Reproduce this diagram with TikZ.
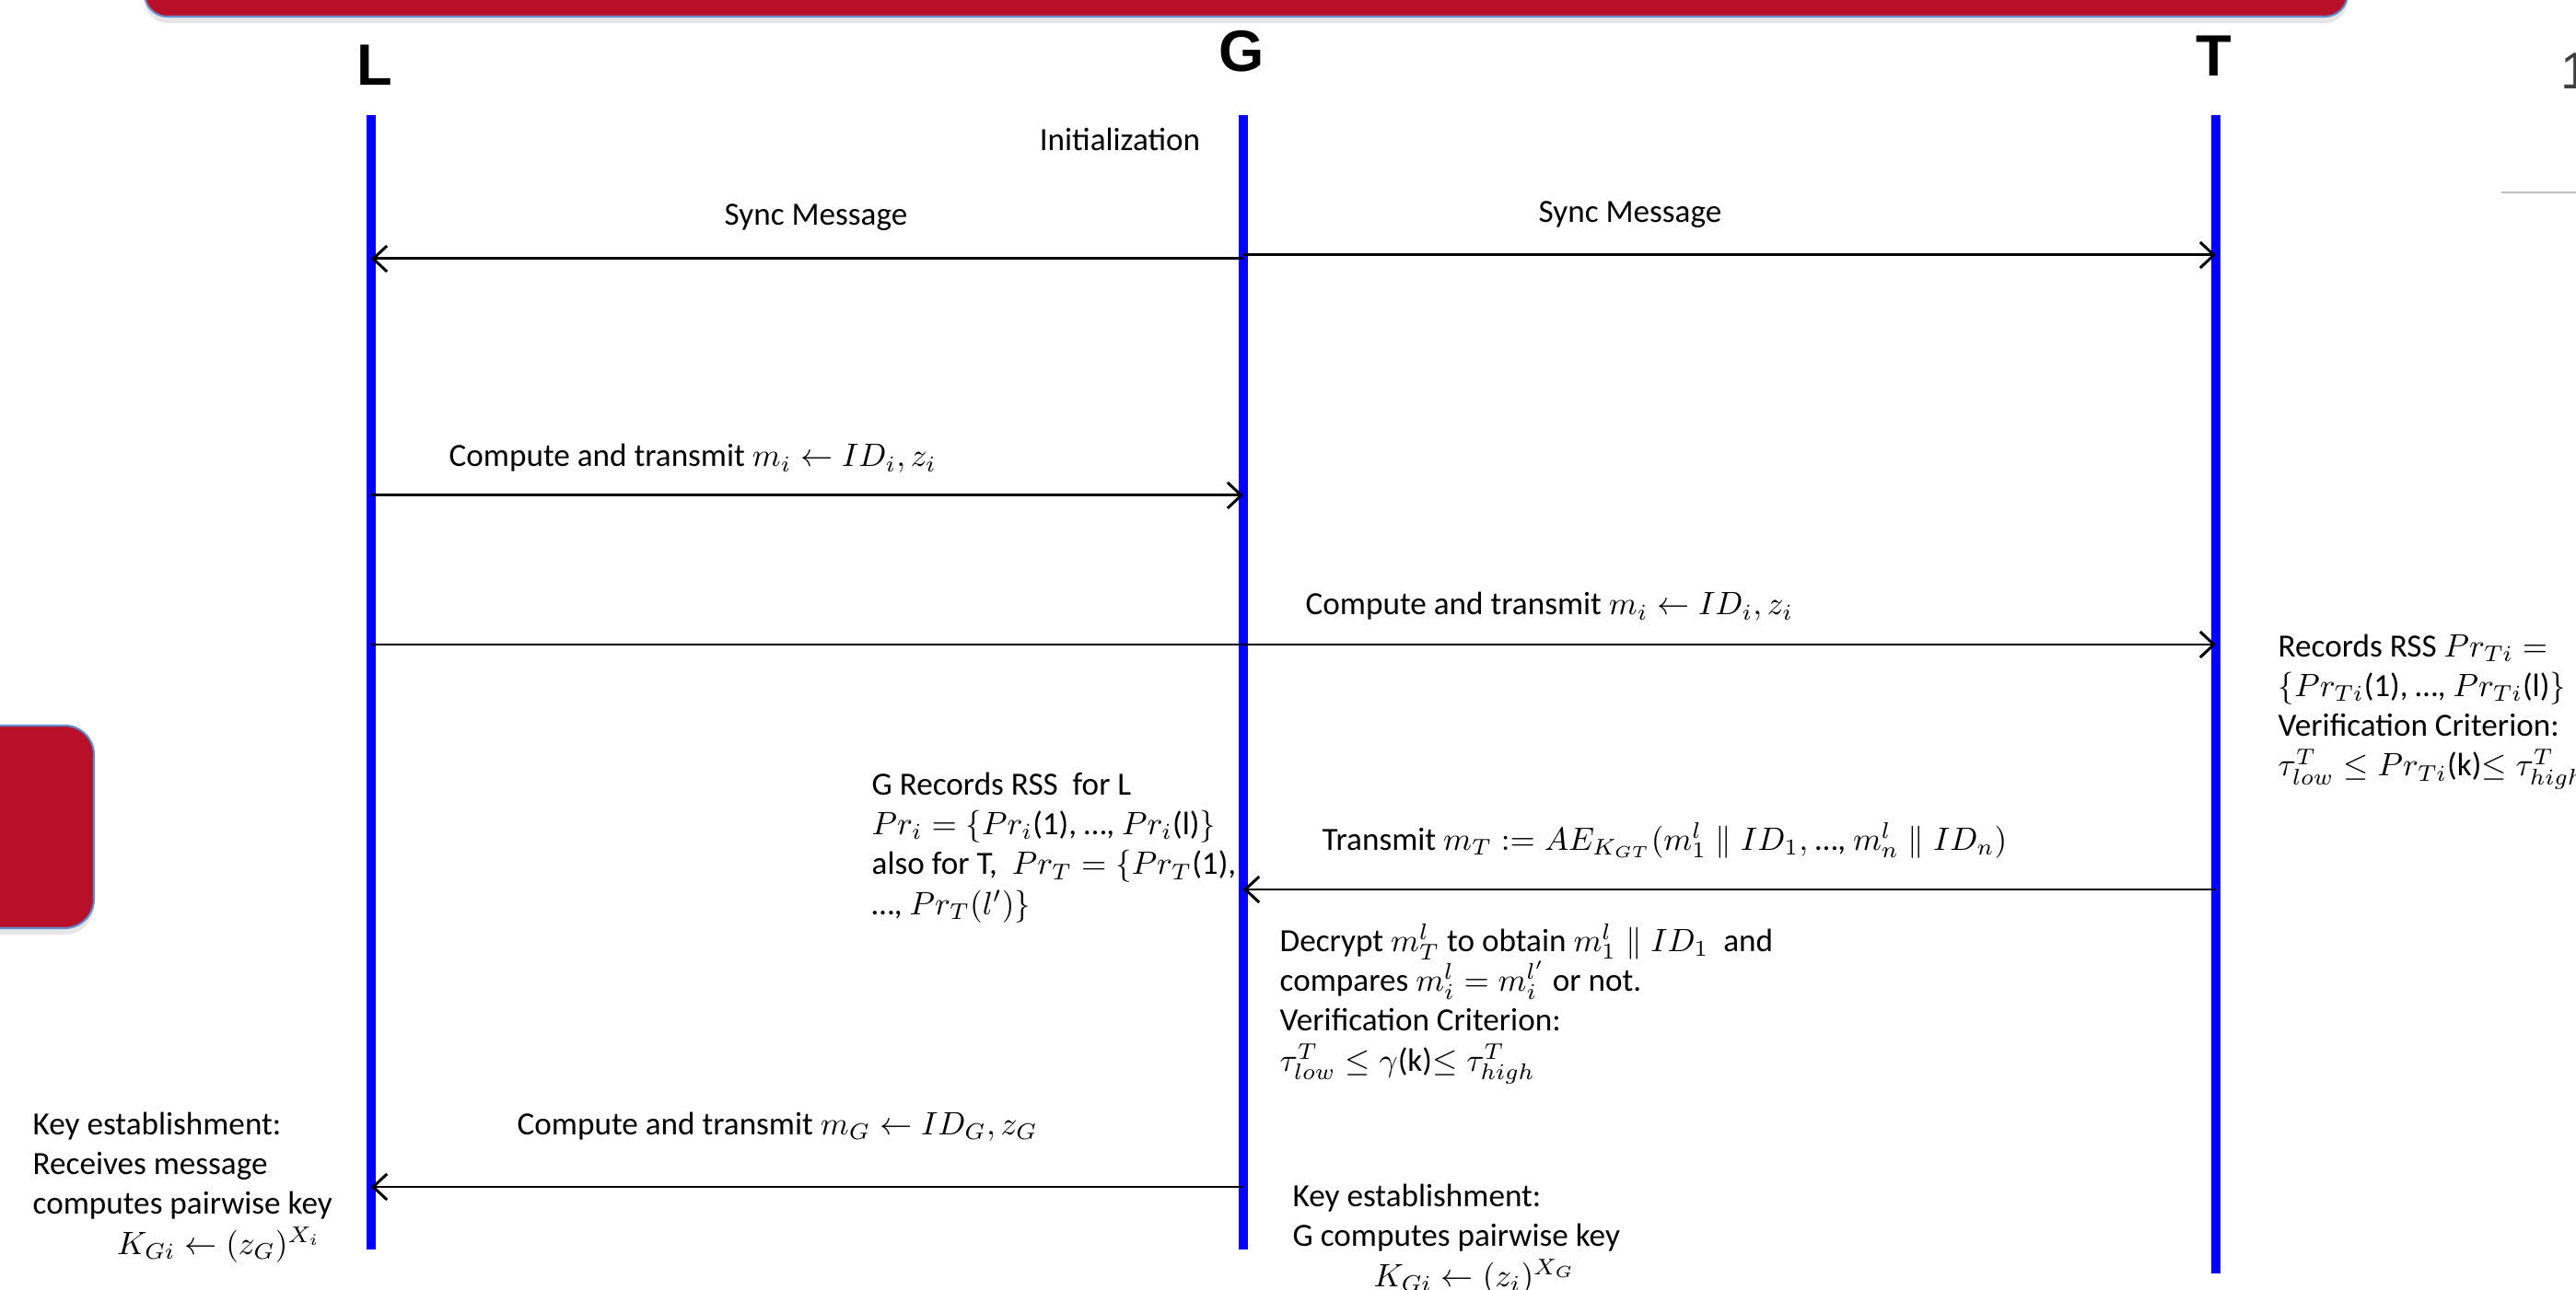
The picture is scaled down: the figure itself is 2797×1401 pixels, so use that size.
\documentclass[tikz,border=0pt]{standalone}
\usepackage{fontspec}
\setmainfont{Carlito}
\newfontfamily\headfont{Liberation Sans}
\usetikzlibrary{arrows.meta,shadows}
\definecolor{slidered}{RGB}{185,16,41}
\definecolor{edgeblue}{RGB}{100,140,205}
\begin{document}
\begin{tikzpicture}[x=0.01cm,y=-0.01cm,
lifeline/.style={line width=3.1pt,blue},
msg/.style={line width=0.85pt,-{Straight Barb[length=1.5mm,width=2.8mm]}},
lbl/.style={font=\fontsize{10}{12.3}\selectfont,inner sep=0pt,anchor=base west},
note/.style={lbl,align=left},
head/.style={font=\headfont\bfseries\fontsize{18}{20}\selectfont,inner sep=0pt,anchor=base},
panel/.style={fill=slidered,draw=edgeblue,line width=0.6pt,
  drop shadow={opacity=0.2,shadow xshift=0pt,shadow yshift=-2pt}}]
\useasboundingbox (0,0) rectangle (2797,1401);
% slide decorations
\draw[panel,rounded corners=7pt] (157,-80) rectangle (2549,18);
\draw[panel,rounded corners=9pt] (-60,788) rectangle (102,1008);
\node[inner sep=0pt,anchor=base west,text=black!75,
  font=\headfont\fontsize{16}{18}\selectfont] (pagenum) at (2780,97) {1};
\coordinate (ruleA) at (2716,209);
\coordinate (ruleB) at (2797,209);
\draw[black!25,line width=0.6pt] (ruleA) -- (ruleB);
% parties
\node[head] (L) at (407,93) {L};
\node[head] (G) at (1348,78) {G};
\node[head] (T) at (2404,83) {T};
\coordinate (Ltop) at (403,125);
\coordinate (Lbot) at (403,1357);
\coordinate (Gtop) at (1350,125);
\coordinate (Gbot) at (1350,1357);
\coordinate (Ttop) at (2406,125);
\coordinate (Tbot) at (2406,1383);
\draw[lifeline] (Ltop) -- (Lbot);
\draw[lifeline] (Gtop) -- (Gbot);
\draw[lifeline] (Ttop) -- (Tbot);
% message ends
\coordinate (G1) at (1350,281);
\coordinate (L1) at (403,281);
\coordinate (G2) at (1350,277);
\coordinate (T2) at (2406,277);
\coordinate (L3) at (403,538);
\coordinate (G3) at (1350,538);
\coordinate (L4) at (403,700);
\coordinate (T4) at (2406,700);
\coordinate (T5) at (2406,966);
\coordinate (G5) at (1350,966);
\coordinate (G6) at (1350,1289);
\coordinate (L6) at (403,1289);
\draw[msg] (G1) -- (L1);
\draw[msg] (G2) -- (T2);
\draw[msg] (L3) -- (G3);
\draw[msg] (L4) -- (T4);
\draw[msg] (T5) -- (G5);
\draw[msg] (G6) -- (L6);
% labels
\node[lbl,anchor=base] (init) at (1216,164) {Initialization};
\node[lbl,anchor=base] (sync1) at (886,245) {Sync Message};
\node[lbl,anchor=base] (sync2) at (1770,242) {Sync Message};
\node[lbl] (msgLG) at (487,507) {Compute and transmit $m_i \leftarrow ID_i, z_i$};
\node[lbl] (msgLT) at (1417,668) {Compute and transmit $m_i \leftarrow ID_i, z_i$};
\node[lbl] (msgTG) at (1435,923) {Transmit $m_T \mathrel{:=} AE_{K_{GT}}(m_1^l \parallel ID_1,$ …, $m_n^l \parallel ID_n)$};
\node[lbl] (msgGL) at (561,1232) {Compute and transmit $m_G \leftarrow ID_G, z_G$};
% notes (placed at the baseline of their last line)
\node[note] (recT) at (2473,843) {Records RSS $Pr_{Ti} =$\\
  $\{Pr_{Ti}$(1), …, $Pr_{Ti}$(l)$\}$\\
  Verification Criterion:\\
  $\tau_{low}^T \le Pr_{Ti}$(k)$\le \tau_{high}^T$};
\node[note] (recG) at (946,993) {G Records RSS\ \ for L\\
  $Pr_i = \{Pr_i$(1), …, $Pr_i$(l)$\}$\\
  also for T,\ \ $Pr_T = \{Pr_T$(1),\\
  …, $Pr_T(l')\}$};
\node[note] (decG) at (1389,1163) {Decrypt $m_T^l$ to obtain $m_1^l \parallel ID_1$\ \ and\\
  compares $m_i^l = m_i^{l'}$ or not.\\
  Verification Criterion:\\
  $\tau_{low}^T \le \gamma$(k)$\le \tau_{high}^T$};
\node[note] (keyL) at (35,1362) {Key establishment:\\
  Receives message\\
  computes pairwise key\\
  \hspace*{26pt}$K_{Gi} \leftarrow (z_G)^{X_i}$};
\node[note] (keyG) at (1403,1397) {Key establishment:\\
  G computes pairwise key\\
  \hspace*{25pt}$K_{Gi} \leftarrow (z_i)^{X_G}$};
\end{tikzpicture}
\end{document}
